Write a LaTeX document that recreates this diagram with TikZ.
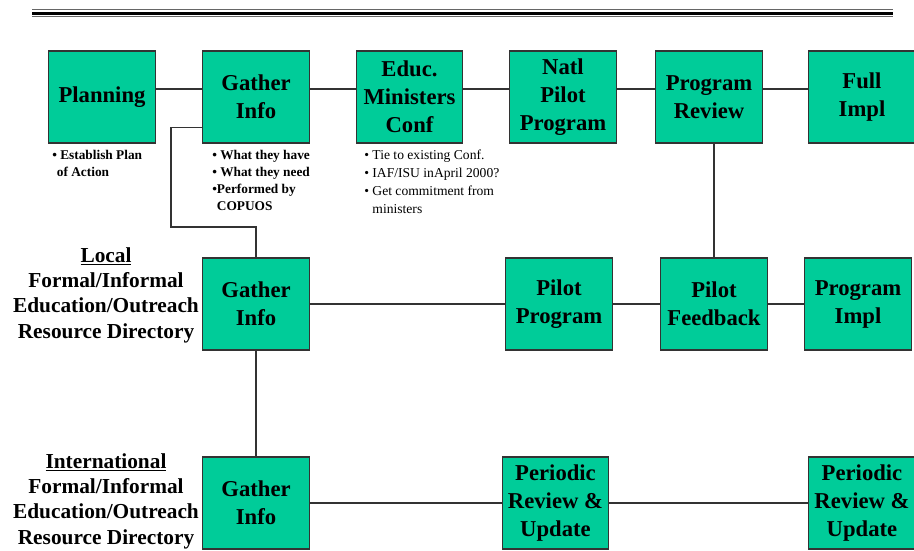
\documentclass[tikz,border=0pt]{standalone}
\usepackage{fontspec}
\setmainfont{Liberation Serif}
\usepackage{tikz}
\definecolor{boxgreen}{RGB}{0,204,153}
\tikzset{stage/.style={draw=black!80, line width=0.8pt, fill=boxgreen,
   minimum width=80pt, minimum height=69pt, align=center, inner sep=1pt,
   font=\fontsize{17}{21}\selectfont\bfseries},
 link/.style={draw=black!80, line width=1pt},
 note/.style={align=left, inner sep=0pt, anchor=north west,
   font=\fontsize{10}{12.8}\selectfont},
 level/.style={align=center, inner sep=0pt,
   font=\fontsize{16}{19}\selectfont\bfseries},
 }

\begin{document}
\begin{tikzpicture}[x=0.75pt, y=-0.75pt]
        \useasboundingbox (0,0) rectangle (914,550);
        % header rule
        \draw[black!60, line width=0.7pt] (32,9.8) -- (893,9.8);
        \draw[line width=2.4pt] (32,13.3) -- (893,13.3);
        \draw[black!60, line width=0.7pt] (32,16.7) -- (893,16.7);
        % top row
        \node[stage] (planning) at (102,97) {Planning};
        \node[stage] (gather) at (256,97) {Gather\\Info};
        \node[stage] (ministers) at (409.5,97) {Educ.\\Ministers\\Conf};
        \node[stage] (natl) at (563,97) {Natl\\Pilot\\Program};
        \node[stage] (review) at (709,97) {Program\\Review};
        \node[stage] (full) at (862,97) {Full\\Impl};
        % notes under the top row
        \node[note, font=\fontsize{10}{12.8}\selectfont\bfseries] (plannote) at (52,150)
            {\textbullet\ Establish Plan\\\phantom{\textbullet}of Action};
        \node[note, font=\fontsize{10}{12.8}\selectfont\bfseries] (gathernote) at (212,150)
            {\textbullet\ What they have\\\textbullet\ What they need\\\textbullet Performed by\\\phantom{\textbullet}COPUOS};
        \node[note, font=\fontsize{10.2}{13.3}\selectfont] (confnote) at (364,150)
            {\textbullet\ Tie to existing Conf.\\\textbullet\ IAF/ISU inApril 2000?\\\textbullet\ Get commitment from\\\phantom{\textbullet\ }ministers};
        % local row
        \node[level] (localtxt) at (106,295)
            {\underline{Local}\\Formal/Informal\\Education/Outreach\\Resource Directory};
        \node[stage] (localinfo) at (256,304) {Gather\\Info};
        \node[stage] (pilot) at (559,304) {Pilot\\Program};
        \node[stage] (feedback) at (714,304) {Pilot\\Feedback};
        \node[stage] (impl) at (858,304) {Program\\Impl};
        % international row
        \node[level] (intltxt) at (106,501)
            {\underline{International}\\Formal/Informal\\Education/Outreach\\Resource Directory};
        \node[stage] (intlinfo) at (256,503) {Gather\\Info};
        \node[stage] (periodic) at (555.5,503) {Periodic\\Review \&\\Update};
        \node[stage] (periodictwo) at (862,503) {Periodic\\Review \&\\Update};
        % connectors
        \draw[link] ([yshift=6pt]planning.east) -- ([yshift=6pt]gather.west);
        \draw[link] ([yshift=6pt]gather.east) -- ([yshift=6pt]ministers.west);
        \draw[link] ([yshift=6pt]ministers.east) -- ([yshift=6pt]natl.west);
        \draw[link] ([yshift=6pt]natl.east) -- ([yshift=6pt]review.west);
        \draw[link] ([yshift=6pt]review.east) -- ([yshift=6pt]full.west);
        \coordinate (bend) at (171,227);
        \draw[link] ([yshift=-23pt]gather.west) -| (bend) -| (localinfo.north);
        \draw[link] (feedback.north) -- (feedback.north |- review.south);
        \draw[link] (localinfo.east) -- (pilot.west);
        \draw[link] (pilot.east) -- (feedback.west);
        \draw[link] (feedback.east) -- (impl.west);
        \draw[link] (localinfo.south) -- (intlinfo.north);
        \draw[link] (intlinfo.east) -- (periodic.west);
        \draw[link] (periodic.east) -- (periodictwo.west);
    \end{tikzpicture}
\end{document}
